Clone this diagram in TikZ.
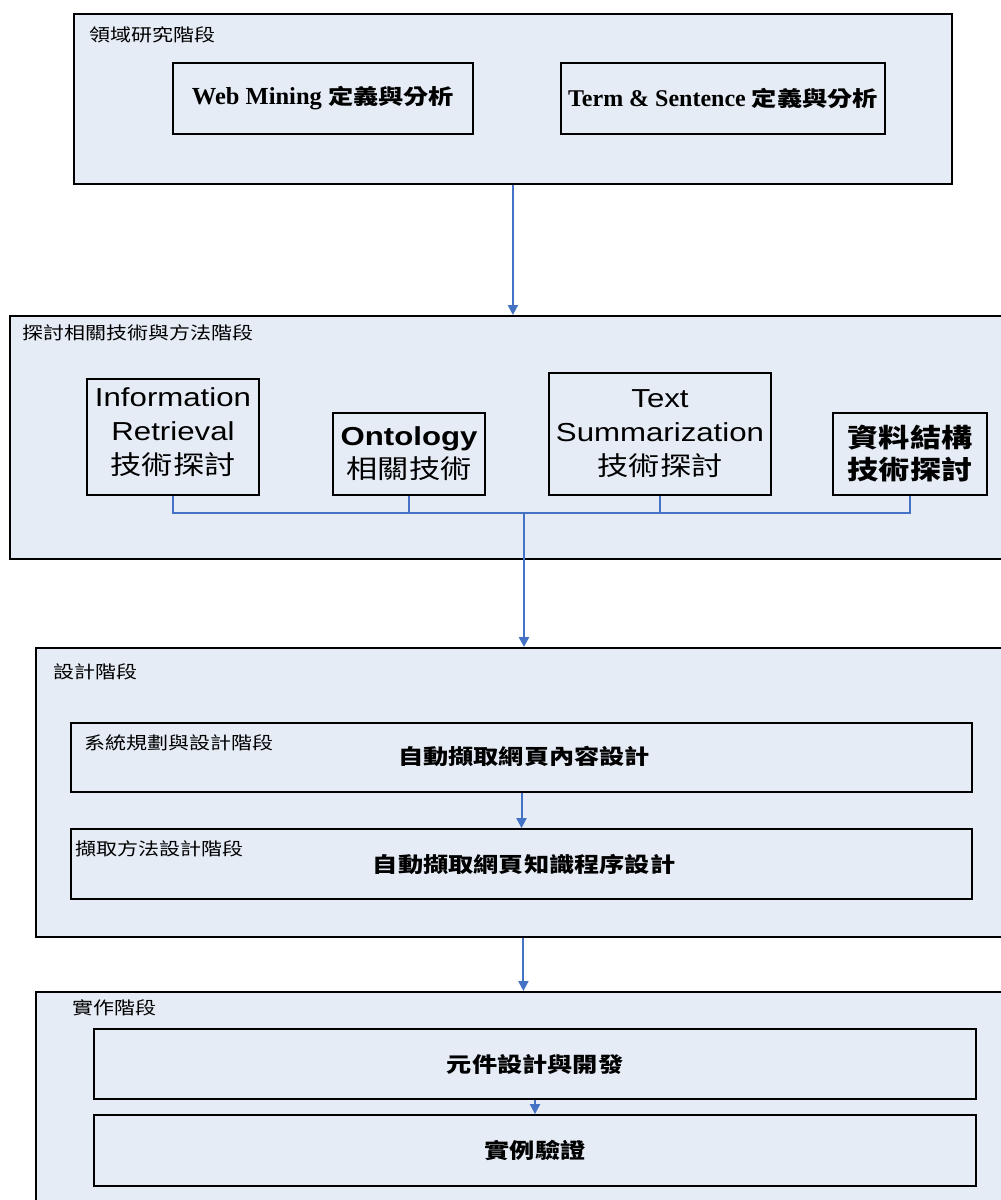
\documentclass[tikz,border=0pt]{standalone}
\usepackage{fontspec}
\setmainfont{Liberation Serif}
\newfontfamily\cjk[FakeStretch=1.2]{Noto Sans CJK TC}
\newfontfamily\arialx[FakeStretch=1.2]{Liberation Sans}
\usetikzlibrary{arrows.meta}
\definecolor{panel}{RGB}{230,236,246}
\definecolor{link}{RGB}{68,114,196}
\tikzset{
  stage/.style={draw=black, line width=1.8pt, fill=panel, anchor=north west, inner sep=0pt},
  item/.style={draw=black, line width=1.8pt, fill=panel, inner sep=0pt, align=center},
  tag/.style={anchor=west, inner sep=0pt, font=\cjk\fontsize{17.5}{20}\selectfont},
  flow/.style={draw=link, line width=2pt, -{Triangle[length=10pt,width=10pt]}},
  bus/.style={draw=link, line width=1.6pt},
  techtext/.style={font=\arialx\fontsize{26}{34}\selectfont},
  maintext/.style={font=\cjk\bfseries\fontsize{21}{24}\selectfont},
}
\begin{document}
\begin{tikzpicture}[x=1pt,y=-1pt]
\useasboundingbox (0,0) rectangle (1001,1200);

% ---- stage 1 ----
\node[stage, minimum width=878pt, minimum height=170pt] (s1) at (73,13) {};
\node[tag] (t1) at (89,35) {領域研究階段};
\node[item, minimum width=300pt, minimum height=71pt] (wm) at (323,98.5)
  {\bfseries\fontsize{24.5}{28}\selectfont Web Mining {\cjk\fontsize{21}{24}\selectfont 定義與分析}};
\node[item, minimum width=324pt, minimum height=71pt] (ts1) at (723,98.5)
  {\bfseries\fontsize{24}{28}\selectfont Term \& Sentence {\cjk\fontsize{21}{24}\selectfont 定義與分析}};

% ---- stage 2 ----
\node[stage, minimum width=1001pt, minimum height=243pt] (s2) at (9,315) {};
\node[tag] (t2) at (22,333) {探討相關技術與方法階段};
\node[item, techtext, minimum width=172pt, minimum height=116pt] (ir) at (173,437)
  {Information\\Retrieval\\{\cjk 技術探討}\\[-22pt]};
\node[item, techtext, minimum width=152pt, minimum height=82pt] (ont) at (409,454)
  {\bfseries Ontology\\[-1pt]{\cjk 相關技術}};
\node[item, techtext, minimum width=222pt, minimum height=122pt] (tsum) at (660,434)
  {Text\\Summarization\\{\cjk 技術探討}};
\node[item, techtext, minimum width=154pt, minimum height=82pt] (ds) at (910,454)
  {{\cjk\bfseries 資料結構}\\[-2pt]{\cjk\bfseries 技術探討}};

% ---- stage 3 ----
\node[stage, minimum width=975pt, minimum height=289pt] (s3) at (35,647) {};
\node[tag] (t3) at (53,672) {設計階段};
\node[item, minimum width=901pt, minimum height=69pt] (pa) at (521.5,757.5) {};
\node[maintext] (pat) at (524,756) {自動擷取網頁內容設計};
\node[tag] (pal) at (84,743) {系統規劃與設計階段};
\node[item, minimum width=901pt, minimum height=70pt] (pb) at (521.5,864) {};
\node[maintext] (pbt) at (524,864) {自動擷取網頁知識程序設計};
\node[tag] (pbl) at (75,849) {擷取方法設計階段};

% ---- stage 4 ----
\node[stage, minimum width=975pt, minimum height=240pt] (s4) at (35,991) {};
\node[tag] (t4) at (72,1008) {實作階段};
\node[item, maintext, minimum width=882pt, minimum height=70pt] (pc) at (535,1064) {元件設計與開發};
\node[item, maintext, minimum width=882pt, minimum height=71pt] (pd) at (535,1150.5) {實例驗證};

% ---- connectors ----
\draw[flow] (s1.south) -- (s1.south |- s2.north);
\coordinate (jn) at (524,513);
\draw[bus] (ir.south) |- (jn) -| (ds.south);
\draw[bus] (ont.south) -- (ont.south |- jn);
\draw[bus] (tsum.south) -- (tsum.south |- jn);
\draw[flow, line width=2.6pt] (jn) -- (jn |- s3.north);
\draw[flow] (pa.south) -- (pb.north);
\draw[flow] (s3.south) -- (s3.south |- s4.north);
\draw[flow] (pc.south) -- (pd.north);
\end{tikzpicture}
\end{document}
